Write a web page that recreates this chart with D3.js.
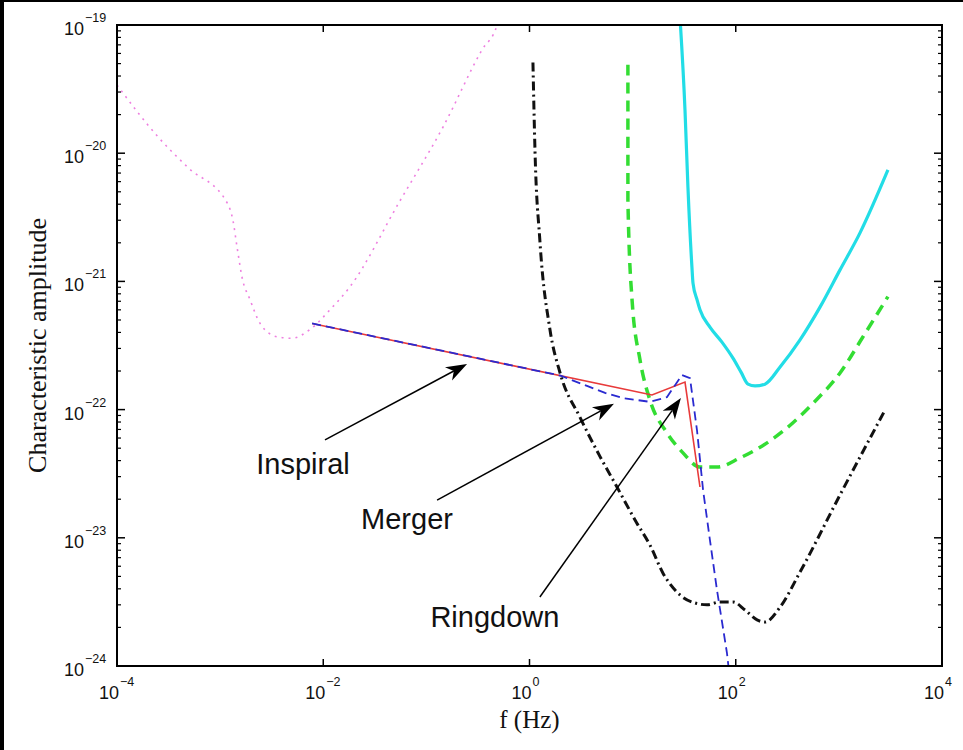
<!DOCTYPE html>
<html><head><meta charset="utf-8">
<script src="https://cdn.jsdelivr.net/npm/d3@7"></script>
<style>html,body{margin:0;padding:0;background:#fff;}svg{display:block;}</style>
</head><body>
<script>
// ---- data (frequency in Hz, characteristic amplitude) ----
const xTicks = [1e-4, 1e-2, 1e0, 1e2, 1e4];
const xTickExp = ["−4", "−2", "0", "2", "4"];
const yTicks = [1e-19, 1e-20, 1e-21, 1e-22, 1e-23, 1e-24];
const yTickExp = ["−19", "−20", "−21", "−22", "−23", "−24"];

const lisaNoise = [[1e-4,3.4e-20],[2.5e-4,1.34e-20],[4.9e-4,7.7e-21],[1.17e-3,4.1e-21],[1.33e-3,3.0e-21],
  [1.46e-3,1.85e-21],[1.63e-3,1.08e-21],[1.95e-3,7.2e-22],[2.44e-3,4.7e-22],[3.56e-3,3.7e-22],[4.98e-3,3.6e-22],
  [7.4e-3,4.2e-22],[1.16e-2,6.0e-22],[1.8e-2,9.0e-22],[5.5e-2,4.2e-21],[0.145,1.6e-20],[0.346,6.4e-20],[0.484,1e-19],[0.55,1.5e-19]];

const blackNoise = [[1.08,5.1e-20],[1.13,1.06e-20],[1.26,2.1e-21],[1.58,4.2e-22],[1.98,1.93e-22],[3.09,8.7e-23],
  [4.83,4.3e-23],[7.05,2.49e-23],[11.0,1.30e-23],[14.7,8.8e-24],[19.7,5.3e-24],[28.8,3.58e-24],[40.3,3.1e-24],
  [52.6,3.0e-24],[70.3,3.16e-24],[94,3.16e-24],[123,2.73e-24],[161,2.29e-24],[192,2.2e-24],[269,2.88e-24],
  [420,5.4e-24],[1026,2.16e-23],[2800,9.9e-23]];

const greenNoise = [[9.0,4.9e-20],[9.0,4.3e-21],[9.87,7.2e-22],[11.8,2.44e-22],[14.7,1.19e-22],[21.5,6.6e-23],
  [30.8,4.6e-23],[45,3.56e-23],[65.8,3.56e-23],[110,4.2e-23],[201,5.5e-23],[359,7.9e-23],[561,1.12e-22],
  [1026,1.93e-22],[1714,3.7e-22],[2990,7.6e-22]];

const cyanNoise = [[28.5,1.3e-19],[32.2,2.17e-20],[34.4,5.4e-21],[37.6,1.29e-21],[38.5,9.7e-22],[42.1,7.2e-22],
  [45,6.0e-22],[56.2,4.4e-22],[73.5,3.36e-22],[94,2.52e-22],[112.5,1.96e-22],[131.5,1.58e-22],[153.8,1.53e-22],
  [192,1.58e-22],[269,2.15e-22],[420,3.5e-22],[656,6.3e-22],[1026,1.23e-21],[1603,2.39e-21],[2990,7.4e-21]];

const signalFit = [[7.8e-3,4.7e-22],[15.4,1.3e-22],[32.2,1.64e-22],[45,2.49e-23]];
const signalNum = [[7.8e-3,4.7e-22],[2.0,1.84e-22],[3.61,1.53e-22],[5.4,1.35e-22],[8.07,1.23e-22],[14.7,1.15e-22],
  [21.5,1.25e-22],[30.1,1.86e-22],[36,1.76e-22],[42.1,6.9e-23],[48.2,2.36e-23],[56.2,9.6e-24],[65.8,3.9e-24],
  [82.2,1.26e-24],[87.9,7.8e-25]];

const annLabels = ["Inspiral", "Merger", "Ringdown"];
const annText = [[6.37e-3,3.15e-23],[0.0649,1.17e-23],[0.462,2.01e-24]];
const annTail = [[0.0104,5.8e-23],[0.127,1.97e-23],[1.26,3.45e-24]];
const annHead = [[0.248,2.27e-22],[6.59,1.11e-22],[29.4,1.23e-22]];

// ---- layout ----
const W = 963, H = 750;
const L = 117, R = 942, T = 25, B = 666;

const svg = d3.select("body").append("svg").attr("width", W).attr("height", H);
svg.append("rect").attr("width", W).attr("height", H).attr("fill", "#fff");
svg.append("rect").attr("x",0).attr("y",0).attr("width",4).attr("height",H).attr("fill","#000");
svg.append("rect").attr("x",0).attr("y",0).attr("width",W).attr("height",2).attr("fill","#000");

const x = d3.scaleLog().domain([1e-4, 1e4]).range([L, R]);
const y = d3.scaleLog().domain([1e-24, 1e-19]).range([B, T]);

svg.append("defs").append("clipPath").attr("id","clip")
  .append("rect").attr("x",L).attr("y",T).attr("width",R-L).attr("height",B-T);

const plot = svg.append("g").attr("clip-path","url(#clip)");
const smooth = d3.line().x(d=>x(d[0])).y(d=>y(d[1])).curve(d3.curveMonotoneX);
const straight = d3.line().x(d=>x(d[0])).y(d=>y(d[1]));

plot.append("path").attr("d", smooth(lisaNoise)).attr("fill","none")
  .attr("stroke","#ee7fe0").attr("stroke-width",1.6).attr("stroke-dasharray","2,5");
plot.append("path").attr("d", smooth(blackNoise)).attr("fill","none")
  .attr("stroke","#111").attr("stroke-width",3).attr("stroke-dasharray","9,4,2,4");
plot.append("path").attr("d", smooth(greenNoise)).attr("fill","none")
  .attr("stroke","#33dd33").attr("stroke-width",3.5).attr("stroke-dasharray","11,7");
plot.append("path").attr("d", smooth(cyanNoise)).attr("fill","none")
  .attr("stroke","#22dde6").attr("stroke-width",3.2);
plot.append("path").attr("d", straight(signalFit)).attr("fill","none")
  .attr("stroke","#e83a3a").attr("stroke-width",1.6);
plot.append("path").attr("d", straight(signalNum)).attr("fill","none")
  .attr("stroke","#2a2ad0").attr("stroke-width",1.8).attr("stroke-dasharray","9,5");

// ---- annotations ----
annLabels.forEach((lab,i)=>{
  const x0 = x(annTail[i][0]), y0 = y(annTail[i][1]);
  const x1 = x(annHead[i][0]), y1 = y(annHead[i][1]);
  const ang = Math.atan2(y1-y0, x1-x0);
  const len = 21, wid = 7.5, notch = 15;
  const ux = Math.cos(ang), uy = Math.sin(ang), px = -uy, py = ux;
  svg.append("line").attr("x1",x0).attr("y1",y0).attr("x2",x1-ux*notch).attr("y2",y1-uy*notch)
    .attr("stroke","#000").attr("stroke-width",1.5);
  const p = [[x1,y1],[x1-ux*len+px*wid, y1-uy*len+py*wid],[x1-ux*notch, y1-uy*notch],[x1-ux*len-px*wid, y1-uy*len-py*wid]];
  svg.append("path").attr("d","M"+p.map(q=>q.join(",")).join("L")+"Z").attr("fill","#000");
  svg.append("text").attr("x", x(annText[i][0])).attr("y", y(annText[i][1]))
    .attr("text-anchor","middle").attr("font-family","'Liberation Sans', Arial, sans-serif")
    .attr("font-size",29).attr("fill","#111").text(lab);
});

// ---- axes frame ----
const ax = svg.append("g");
ax.append("rect").attr("x",L).attr("y",T).attr("width",R-L).attr("height",B-T)
  .attr("fill","none").attr("stroke","#000").attr("stroke-width",2);

xTicks.forEach(v=>{
  ax.append("line").attr("x1",x(v)).attr("x2",x(v)).attr("y1",B).attr("y2",B-7).attr("stroke","#000").attr("stroke-width",1.5);
  ax.append("line").attr("x1",x(v)).attr("x2",x(v)).attr("y1",T).attr("y2",T+7).attr("stroke","#000").attr("stroke-width",1.5);
});
const yMinor = [];
for (let e=-24; e<-19; e++) for (let m=2; m<=9; m++) yMinor.push(m*Math.pow(10,e));
yTicks.forEach(v=>{
  [[L,L+8],[R,R-8]].forEach(s=>ax.append("line").attr("x1",s[0]).attr("x2",s[1]).attr("y1",y(v)).attr("y2",y(v)).attr("stroke","#000").attr("stroke-width",1.5));
});
yMinor.forEach(v=>{
  [[L,L+4],[R,R-4]].forEach(s=>ax.append("line").attr("x1",s[0]).attr("x2",s[1]).attr("y1",y(v)).attr("y2",y(v)).attr("stroke","#000").attr("stroke-width",1.2));
});

const tf = "'Liberation Sans', Arial, Helvetica, sans-serif";
xTicks.forEach((v,i)=>{
  const xx = x(v);
  ax.append("text").attr("x",xx+2).attr("y",B+33).attr("text-anchor","end")
    .attr("font-family",tf).attr("font-size",18).attr("fill","#111").text("10");
  ax.append("text").attr("x",xx+3).attr("y",B+20).attr("text-anchor","start")
    .attr("font-family",tf).attr("font-size",12.5).attr("fill","#111").text(xTickExp[i]);
});
yTicks.forEach((v,i)=>{
  const yy = y(v);
  ax.append("text").attr("x",84).attr("y",yy+10).attr("text-anchor","end")
    .attr("font-family",tf).attr("font-size",18).attr("fill","#111").text("10");
  ax.append("text").attr("x",85).attr("y",yy-3).attr("text-anchor","start")
    .attr("font-family",tf).attr("font-size",12.5).attr("fill","#111").text(yTickExp[i]);
});

const sf = "'Liberation Serif', 'Times New Roman', serif";
svg.append("text").attr("x",(L+R)/2).attr("y",728).attr("text-anchor","middle")
  .attr("font-family",sf).attr("font-size",25).attr("fill","#111").text("f (Hz)");
svg.append("text").attr("transform",`translate(46,${(T+B)/2}) rotate(-90)`).attr("text-anchor","middle")
  .attr("font-family",sf).attr("font-size",26).attr("fill","#111").text("Characteristic amplitude");
</script>
</body></html>
